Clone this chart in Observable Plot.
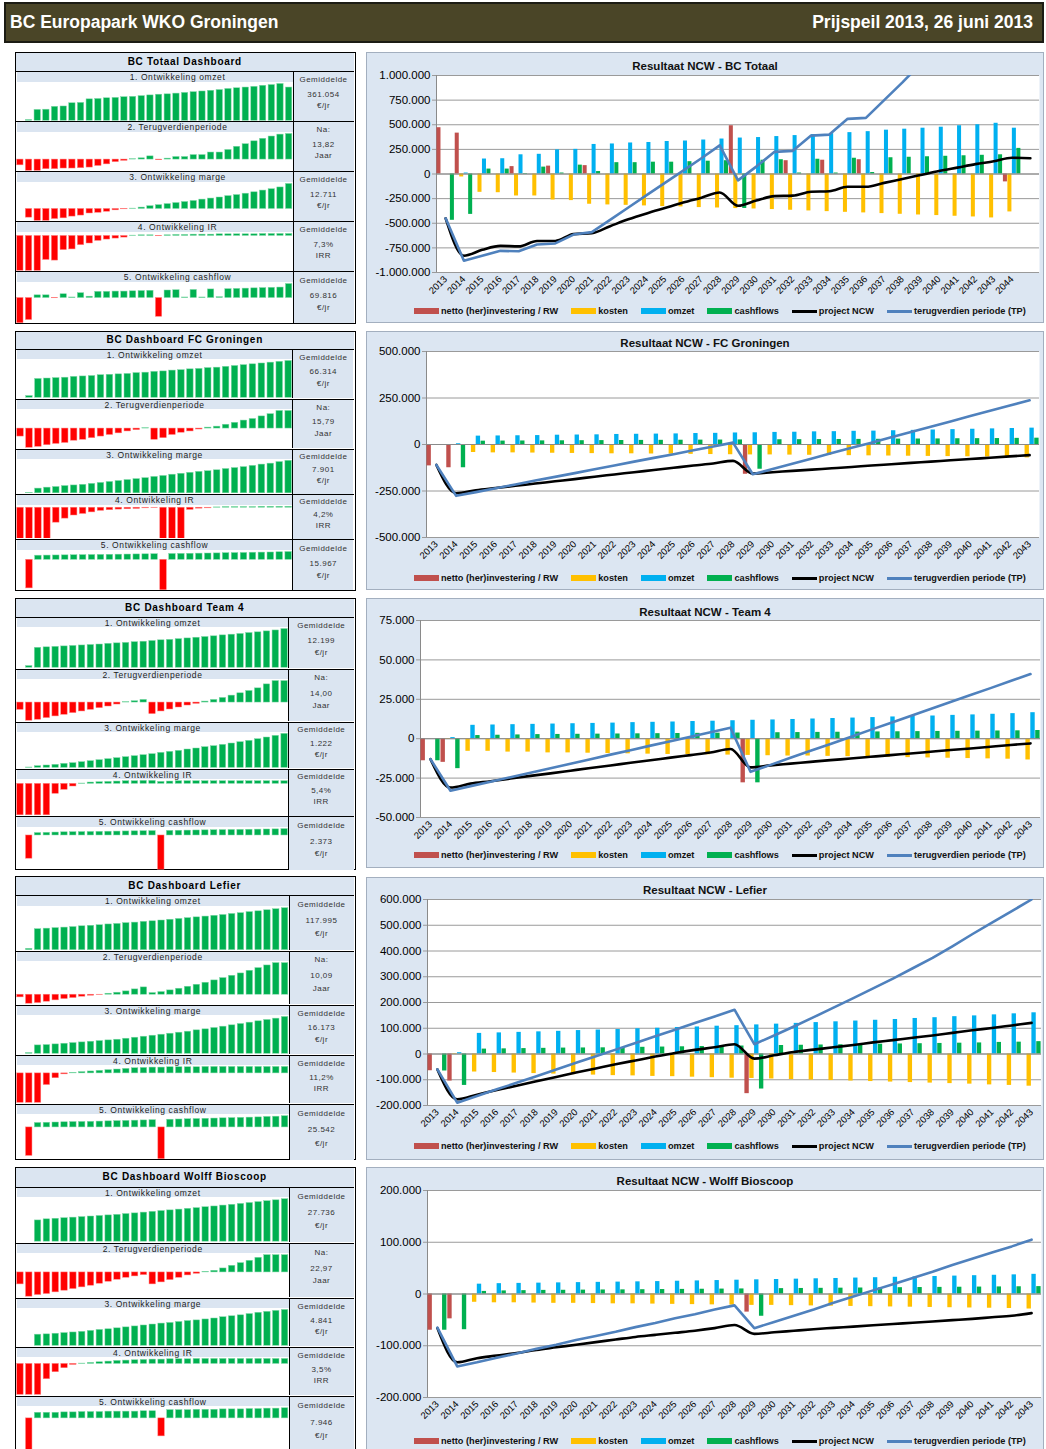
<!DOCTYPE html>
<html><head><meta charset="utf-8">
<script src="https://cdn.jsdelivr.net/npm/d3@7"></script>
<script src="https://cdn.jsdelivr.net/npm/@observablehq/plot@0.6"></script>
<style>
html,body{margin:0;padding:0;background:#fff;}
body{width:1046px;height:1449px;overflow:hidden;position:relative;font-family:"Liberation Sans",Arial,sans-serif;}
</style></head><body>
<script>
// ---------- categories ----------
const yearsTotaal = ["2013","2014","2015","2016","2017","2018","2019","2020","2021","2022","2023","2024","2025","2026","2027","2028","2029","2030","2031","2032","2033","2034","2035","2036","2037","2038","2039","2040","2041","2042","2043","2044",""];
const years = ["2013","2014","2015","2016","2017","2018","2019","2020","2021","2022","2023","2024","2025","2026","2027","2028","2029","2030","2031","2032","2033","2034","2035","2036","2037","2038","2039","2040","2041","2042","2043"];

// ---------- BC Totaal (x 1000 EUR) ----------
const totInvest = [470,415,0,0,75,0,80,0,85,0,0,0,0,0,0,0,490,0,0,135,0,140,0,145,0,0,0,0,0,0,0,-80];
const totKosten = [0,-30,-186,-190,-223,-223,-264,-270,-307,-314,-318,-324,-331,-334,-341,-345,-351,-355,-361,-368,-375,-382,-389,-395,-402,-409,-416,-422,-429,-436,-446,-385];
const totOmzet = [0,10,152,155,195,200,245,250,300,305,315,320,330,335,345,355,365,370,380,390,400,410,420,430,445,455,465,475,490,500,515,465];
const totCash = [-470,-410,50,50,-5,70,10,90,25,115,115,120,120,125,130,135,-350,140,145,10,150,10,160,15,165,170,175,180,185,190,195,260];
const totNCW = [-450,-830,-770,-730,-735,-680,-680,-610,-600,-530,-460,-400,-345,-290,-240,-188,-323,-270,-225,-220,-180,-175,-130,-130,-90,-50,-10,30,65,100,130,165,160];
const totTP = [-450,-880,-830,-780,-785,-715,-705,-615,-590,-465,-340,-215,-90,35,160,290,-65,75,225,235,390,400,560,570,750,930,1120,1300,1480,1650,1800,1900,1950];
const totMiniTP = [-18,-35,-35,-30,-30,-28,-28,-27,-25,-20,-15,-8,-4,1,4,10,-2,3,8,8,14,14,22,22,30,40,48,57,65,72,78,80];
const totMiniMarge = [0,-25,-34,-34,-29,-27,-22,-19,-13,-11,-8,-4,-1,1,4,8,11,14,17,20,23,27,30,33,37,40,44,48,53,57,62,72];
const totMiniIR = [-106,-106,-106,-73,-75,-43,-41,-28,-23,-15,-11,-8,-5,1,2,2,-1,2,3,3,4,4,4,5,5,5,5,5,6,6,6,6];
const totMiniCash = [-470,-410,50,50,-5,70,10,90,25,115,115,120,120,125,130,135,-350,140,145,10,150,10,160,15,165,170,175,180,185,190,195,260];
const totTicks = [-1000,-750,-500,-250,0,250,500,750,1000];
const totStats = [["Gemiddelde","361.054","€/jr"],["Na:","13,82","Jaar"],["Gemiddelde","12.711","€/jr"],["Gemiddelde","7,3%","IRR"],["Gemiddelde","69.816","€/jr"]];

// ---------- FC Groningen ----------
const fcInvest = [-115,-125,0,0,0,0,0,0,0,0,0,0,0,0,0,0,-160,0,0,0,0,0,0,0,0,0,0,0,0,0,0];
const fcKosten = [0,-3,-43,-45,-45,-46,-47,-48,-49,-50,-50,-51,-52,-53,-54,-55,-56,-56,-57,-58,-59,-60,-61,-62,-63,-64,-65,-66,-67,-68,-72];
const fcOmzet = [0,4,45,46,47,48,50,51,52,54,55,56,57,59,60,62,63,65,66,68,69,71,72,74,76,78,80,82,84,86,88];
const fcCash = [0,-125,18,18.5,19,19.5,20,20.5,21,21.5,22,22.5,23,23.5,24,24.5,-133,25.5,26,26.5,27,27.5,28,29,29.5,30,31,31.5,32,33,34];
const fcNCW = [-110,-262,-246,-234,-222,-210,-198,-186,-173,-161,-149,-137,-125,-113,-102,-88,-156,-149,-142,-135,-128,-121,-113,-106,-99,-92,-85,-78,-71,-64,-57];
const fcTP = [-110,-276,-256,-235,-215,-194,-174,-154,-133,-113,-92,-72,-52,-31,-11,10,-160,-132,-103,-75,-46,-18,10,39,67,96,124,153,181,210,238];
const fcMiniTP = [-25,-60,-57,-52,-48,-45,-38,-35,-30,-25,-20,-15,-9,-5,1,-35,-30,-20,-13,-9,-3,3,6,12,18,25,30,38,45,55,55];
const fcMiniMarge = [0,1,15,18,20,23,25,27,30,33,36,39,42,45,48,52,55,59,62,65,68,70,73,77,80,83,87,91,94,99,103];
const fcMiniIR = [-100,-100,-100,-100,-48,-35,-25,-20,-15,-10,-8,-6,-5,-4,-2,-1,-100,-100,-100,-7,-3,-2,1,2,2,2,2,3,3,3,3];
const fcMiniCash = [0,-125,18,18.5,19,19.5,20,20.5,21,21.5,22,22.5,23,23.5,24,24.5,-133,25.5,26,26.5,27,27.5,28,29,29.5,30,31,31.5,32,33,34];
const fcTicks = [-500,-250,0,250,500];
const fcStats = [["Gemiddelde","66.314","€/jr"],["Na:","15,79","Jaar"],["Gemiddelde","7.901","€/jr"],["Gemiddelde","4,2%","IRR"],["Gemiddelde","15.967","€/jr"]];

// ---------- Team 4 ----------
const t4Invest = [-14,-15,0,0,0,0,0,0,0,0,0,0,0,0,0,0,-28,0,0,0,0,0,0,0,0,0,0,0,0,0,0];
const t4Kosten = [0,-0.5,-8,-8,-8.5,-8.5,-9,-9,-9.2,-9.4,-9.6,-9.8,-10,-10,-10.2,-10.4,-10.6,-10.8,-11,-11,-11.2,-11.4,-11.6,-11.8,-12,-12.2,-12.4,-12.6,-12.8,-13,-13.5];
const t4Omzet = [0,0.7,8.5,8.7,8.9,9.1,9.3,9.5,9.7,9.9,10.2,10.4,10.6,10.9,11.1,11.4,11.7,11.9,12.2,12.5,12.8,13.1,13.4,13.8,14.1,14.4,14.8,15.1,15.5,15.9,16.5];
const t4Cash = [-14,-19,2,2.2,2.4,2.6,2.7,2.8,2.9,3,3.1,3.2,3.3,3.4,3.5,3.6,-28,3.8,3.9,4,4.1,4.2,4.3,4.4,4.5,4.6,4.7,4.8,4.9,5,5.2];
const t4NCW = [-13,-31,-28.5,-27,-25.3,-23.6,-22,-20.3,-18.6,-17,-15.3,-13.7,-12,-10.4,-8.8,-6.5,-18.2,-16.9,-15.8,-14.7,-13.6,-12.6,-11.5,-10.4,-9.4,-8.3,-7.2,-6.2,-5.1,-4,-3];
const t4TP = [-13,-33,-30.1,-27.3,-24.4,-21.6,-18.7,-15.9,-13,-10.1,-7.3,-4.4,-1.6,1.3,4.1,7,-21,-16.6,-12.1,-7.7,-3.3,1.1,5.6,10,14.4,18.9,23.3,27.7,32.1,36.6,41];
const t4MiniTP = [-22,-55,-52,-47,-42,-37,-32,-27,-22,-17,-12,-6,1,4,8,-35,-27,-21,-15,-9,-4,3,8,14,21,28,35,43,55,65,65];
const t4MiniMarge = [0,1,5,7,9,12,14,17,20,23,26,29,32,35,38,41,45,48,51,55,58,62,65,69,73,77,81,86,91,96,102];
const t4MiniIR = [-95,-95,-95,-95,-30,-18,-8,1,4,5,6,7,8,8,9,9,6,7,8,8,8,8,8,8,8,8,8,8,8,8,8];
const t4MiniCash = [0,-19,2,2.2,2.4,2.6,2.7,2.8,2.9,3,3.1,3.2,3.3,3.4,3.5,3.6,-28,3.8,3.9,4,4.1,4.2,4.3,4.4,4.5,4.6,4.7,4.8,4.9,5,5.2];
const t4Ticks = [-50,-25,0,25,50,75];
const t4Stats = [["Gemiddelde","12.199","€/jr"],["Na:","14,00","Jaar"],["Gemiddelde","1.222","€/jr"],["Gemiddelde","5,4%","IRR"],["Gemiddelde","2.373","€/jr"]];

// ---------- Lefier ----------
const lfInvest = [-65,-105,0,0,0,0,0,0,0,0,0,0,0,0,0,0,-154,0,0,0,0,0,0,0,0,0,0,0,0,0,0];
const lfKosten = [0,-2,-70,-72,-74,-76,-78,-80,-82,-84,-85,-87,-88,-90,-92,-94,-95,-97,-99,-101,-103,-105,-107,-109,-111,-113,-115,-117,-120,-122,-125];
const lfOmzet = [0,5,80,82,84,86,88,91,93,95,98,100,103,105,108,110,113,116,119,122,125,128,131,134,138,141,145,148,152,156,160];
const lfCash = [-66,-122,19,20,21,22,23,23.5,24,25,26,27,28,29,30,31,-136,33,34,35,36,37,38,39,40,41,42,43,45,46,48];
const lfNCW = [-60,-176,-158,-140,-123,-106,-89,-72,-56,-40,-25,-10,4,16,26,38,-18,-5,8,17,26,35,45,54,63,72,82,92,101,111,121];
const lfTP = [-60,-189,-163,-137,-112,-86,-60,-34,-9,17,43,69,94,120,146,172,38,72,107,143,180,217,255,293,333,373,418,465,510,555,600];
const lfMiniTP = [-8,-27,-25,-21,-17,-13,-10,-6,-3,-1,3,6,10,16,22,5,8,13,18,24,30,36,43,50,57,64,72,80,88,95,95];
const lfMiniMarge = [0,2,25,26,28,30,32,34,36,38,40,42,45,48,51,54,57,60,63,66,70,73,77,81,85,89,93,97,101,105,110];
const lfMiniIR = [-91,-91,-91,-36,-15,-3,2,4,6,8,10,12,14,16,17,18,18,19,19,19,19,20,20,20,20,20,20,20,20,20,20];
const lfMiniCash = [0,-122,19,20,21,22,23,23.5,24,25,26,27,28,29,30,31,-136,33,34,35,36,37,38,39,40,41,42,43,45,46,48];
const lfTicks = [-200,-100,0,100,200,300,400,500,600];
const lfStats = [["Gemiddelde","117.995","€/jr"],["Na:","10,09","Jaar"],["Gemiddelde","16.173","€/jr"],["Gemiddelde","11,2%","IRR"],["Gemiddelde","25.542","€/jr"]];

// ---------- Wolff Bioscoop ----------
const wfInvest = [-70,-48,0,0,0,0,0,0,0,0,0,0,0,0,0,0,-35,0,0,0,0,0,0,0,0,0,0,0,0,0,0];
const wfKosten = [0,0,-16,-17,-17,-17.5,-18,-18,-18.5,-19,-19,-19.5,-20,-20.5,-21,-21.5,-22,-22,-22.5,-23,-23.5,-24,-24.5,-25,-25.5,-26,-26.5,-27,-27.5,-28,-29];
const wfOmzet = [0,0,19,20,20.5,21,21.5,22,22.5,23,23.5,24,24.7,25.3,26,26.7,27.4,28,28.7,29.4,30,30.8,31.5,32.3,33,33.8,34.6,35.4,36.2,37,38];
const wfCash = [-70,-69,5,6,6.5,7,7.2,7.5,7.8,8,8.3,8.6,8.9,9.2,9.5,9.8,-43,10.4,10.7,11,11.3,11.6,11.9,12.2,12.5,12.8,13.1,13.4,13.7,14,14.3];
const wfNCW = [-66,-132,-124,-119,-114,-108,-103,-98,-93,-88,-83,-79,-75,-71,-66,-60,-77,-74,-71,-68,-65.5,-63,-60.5,-58,-55.5,-53,-50.5,-48,-45,-42,-37];
const wfTP = [-65,-140,-132,-123,-115,-106,-98,-89,-81,-73,-64,-56,-47,-39,-30,-22,-66,-54,-42,-30,-17,-5,7,19,31,43,56,68,80,92,105];
const wfMiniTP = [-36,-73,-68,-65,-60,-55,-50,-45,-40,-34,-28,-22,-16,-12,-8,-36,-30,-23,-16,-9,-4,2,5,12,20,28,35,44,52,52,52];
const wfMiniMarge = [0,0,35,36,38,40,42,44,47,50,52,55,58,61,64,67,70,72,75,78,80,83,86,90,93,96,100,104,107,110,113];
const wfMiniIR = [-93,-93,-93,-46,-25,-13,-3,1,3,5,7,9,10,11,12,13,13,14,14,14,15,15,15,15,15,15,15,15,15,15,15];
const wfMiniCash = [0,-90,15,15,15,16,16,17,17,17,18,18,18,18,19,19,-48,22,22,22,23,23,23,24,24,24,25,25,26,26,27];
const wfTicks = [-200,-100,0,100,200];
const wfStats = [["Gemiddelde","27.736","€/jr"],["Na:","22,97","Jaar"],["Gemiddelde","4.841","€/jr"],["Gemiddelde","3,5%","IRR"],["Gemiddelde","7.946","€/jr"]];

// ---------- texts ----------
const pageTitle = "BC Europapark WKO Groningen";
const pageDate = "Prijspeil 2013, 26 juni 2013";
const rowTitles = ["1. Ontwikkeling omzet","2. Terugverdienperiode","3. Ontwikkeling marge","4. Ontwikkeling IR","5. Ontwikkeling cashflow"];
const legendNames = ["netto (her)investering / RW","kosten","omzet","cashflows","project NCW","terugverdien periode (TP)"];
const legendKinds = ["bar","bar","bar","bar","line","line"];
const seriesColors = ["#c0504d","#ffc000","#00b0f0","#00b050","#000000","#4f81bd"];
const miniNeg = "#ff0000", miniPos = "#00b050";
const FONT = '"Liberation Sans", Arial, sans-serif';

const nl = d3.formatLocale({decimal: ",", thousands: ".", grouping: [3], currency: ["€", ""], minus: "-"});
const fmtInt = nl.format(",.0f");
const fmtK = v => fmtInt(v * 1000);

// ---------- helpers ----------
function div(parent, style, text) {
  const e = document.createElement("div");
  e.style.position = "absolute"; e.style.boxSizing = "border-box";
  for (const [k, v] of Object.entries(style)) e.style[k] = typeof v === "number" ? v + "px" : v;
  if (text != null) e.textContent = text;
  parent.appendChild(e);
  return e;
}
const page = document.body;

// header
const hdr = div(page, {left: 4, top: 2, width: 1040, height: 41, background: "#4a4527", border: "2px solid #1c1c14"});
div(hdr, {left: 4, top: 0, height: 37, lineHeight: 37, color: "#fff", fontSize: 17.5, fontWeight: "bold", whiteSpace: "nowrap"}, pageTitle);
div(hdr, {right: 9, top: 0, height: 37, lineHeight: 37, color: "#fff", fontSize: 17.5, fontWeight: "bold", whiteSpace: "nowrap"}, pageDate);

// ---------- mini chart ----------
function mini(values, labels, w, h) {
  const lo = Math.min(0, d3.min(values)), hi = Math.max(0, d3.max(values));
  const span = hi - lo || 1;
  const dom = labels.slice(0, values.length);
  return Plot.plot({
    width: w, height: h, margin: 0,
    style: {background: "transparent"},
    x: {type: "band", domain: dom, paddingInner: 0.27, paddingOuter: 0.08, round: false, axis: null},
    y: {domain: [lo - span * 0.02, hi + span * 0.04], axis: null},
    marks: [
      Plot.barY(values, {x: (d, i) => dom[i], y: d => d, filter: d => d >= 0, fill: miniPos, stroke: "#7fd8a8", strokeWidth: 0.5}),
      Plot.barY(values, {x: (d, i) => dom[i], y: d => d, filter: d => d < 0, fill: miniNeg, stroke: "#ff8080", strokeWidth: 0.5})
    ]
  });
}

function buildPanel(cfg) {
  const g = cfg.geom, L = 15, R = 355.5, B = 1.5;
  const wrap = div(page, {left: L, top: g.y, width: R - L, height: g.bottom - g.y, border: B + "px solid #000", background: "#fff"});
  div(wrap, {left: 0, top: 0, width: R - L - 2 * B, height: g.rows[0] - g.y - B, background: "#dbe5f1", borderBottom: B + "px solid #000",
    fontSize: 10, fontWeight: "bold", letterSpacing: "0.7px", textAlign: "center", lineHeight: (g.rows[0] - g.y - 2 * B) + "px"}, cfg.title);
  const splitX = g.split - L - B;
  g.rows.forEach((top, k) => {
    const bot = k < 4 ? g.rows[k + 1] : g.bottom;
    const h = bot - top;
    const row = div(wrap, {left: 0, top: top - g.y - B, width: R - L - 2 * B, height: h, borderBottom: k < 4 ? B + "px solid #000" : "none"});
    const inner = h - (k < 4 ? B : 0);
    div(row, {left: 1, top: 0, width: splitX - 1, height: 9.5, background: "#dbe5f1"});
    div(row, {left: 1, top: 0, width: (g.subW || splitX) - 1, height: 9.5, fontSize: 8.5, letterSpacing: "0.6px",
      color: "#222", textAlign: "center", lineHeight: "10px", whiteSpace: "nowrap"}, rowTitles[k]);
    const stat = div(row, {left: splitX, top: 0, width: R - L - 2 * B - splitX, height: inner, background: "#dbe5f1", borderLeft: B + "px solid #000"});
    const fr = [0.17, 0.47, 0.71];
    cfg.stats[k].forEach((s, j) => div(stat, {left: 0, width: "100%", top: inner * fr[j] - 5, height: 10, lineHeight: "10px", textAlign: "center",
      fontSize: 8, letterSpacing: "0.5px", color: "#333"}, s));
    const svg = mini(cfg.mini[k], cfg.labels, splitX, inner - 9.5);
    svg.style.position = "absolute"; svg.style.left = "0px"; svg.style.top = "9.5px";
    row.appendChild(svg);
  });
}

// ---------- main chart ----------
function buildMain(cfg) {
  const {box, plot} = cfg.geom;
  const wrap = div(page, {left: box.x, top: box.y, width: box.w, height: box.h, background: "#dce6f2", border: "1px solid #a3afbf"});
  div(wrap, {left: 0, top: cfg.geom.titleY - box.y - 1 - 8, width: box.w - 2, height: 16, lineHeight: "16px", textAlign: "center",
    fontSize: 11.5, fontWeight: "bold", color: "#111"}, cfg.title);
  const labels = cfg.labels, n = labels.length;
  const H = plot.b - box.y + 40;
  const centers = labels.map((l, i) => i + 0.5);
  const barSeries = [cfg.invest, cfg.kosten, cfg.omzet, cfg.cash];
  const OFF = 0.025, STEP = 0.245, BW = 0.22;
  const barMarks = barSeries.map((arr, s) => Plot.rect(arr, {
    x1: (v, i) => i + OFF + s * STEP, x2: (v, i) => i + OFF + s * STEP + BW, y1: 0, y2: v => v, fill: seriesColors[s], clip: true}));
  const svg = Plot.plot({
    width: box.w - 2, height: H,
    marginLeft: plot.l - box.x - 1, marginRight: box.x + box.w - 1 - plot.r,
    marginTop: plot.t - box.y - 1, marginBottom: H - (plot.b - box.y - 1),
    style: {background: "transparent", fontFamily: FONT, color: "#000", overflow: "visible"},
    x: {type: "linear", domain: [0, n]},
    y: {domain: [cfg.ticks[0], cfg.ticks[cfg.ticks.length - 1]]},
    marks: [
      Plot.frame({fill: "#fff", stroke: "none"}),
      Plot.gridY(cfg.ticks, {stroke: "#9a9a9a", strokeOpacity: 1, strokeWidth: 1}),
      Plot.axisY(cfg.ticks, {tickFormat: fmtK, tickSize: 4, tickPadding: 2, fontSize: 11.5, stroke: "#9a9a9a", label: null}),
      Plot.ruleX([0], {stroke: "#8a8a8a"}),
      ...barMarks,
      Plot.ruleY([0], {stroke: "#8a8a8a"}),
      Plot.line(cfg.ncw, {x: (v, i) => i + 0.5, y: v => v, stroke: seriesColors[4], strokeWidth: 2.6, curve: "monotone-x", clip: true}),
      Plot.line(cfg.tp, {x: (v, i) => i + 0.5, y: v => v, stroke: seriesColors[5], strokeWidth: 2.6, clip: true}),
      Plot.axisX(centers, {tickFormat: c => labels[Math.round(c - 0.5)], tickRotate: -45, tickSize: 0, tickPadding: 5, fontSize: 9.5, label: null})
    ]
  });
  svg.style.position = "absolute"; svg.style.left = "0px"; svg.style.top = "0px";
  wrap.appendChild(svg);
  // legend
  const lg = div(page, {left: 414, top: cfg.geom.legendY - 7, height: 14, display: "flex", alignItems: "center", whiteSpace: "nowrap",
    fontSize: 9.2, fontWeight: "bold", color: "#111"});
  legendNames.forEach((name, j) => {
    const sw = document.createElement("div");
    sw.style.width = "25px"; sw.style.height = legendKinds[j] === "bar" ? "6px" : "3px";
    sw.style.background = seriesColors[j]; sw.style.marginRight = "2px"; sw.style.flex = "none";
    lg.appendChild(sw);
    const t = document.createElement("span");
    t.textContent = name; t.style.marginRight = j < 5 ? "13px" : "0px";
    lg.appendChild(t);
  });
}

// ---------- assemble ----------
const dashboards = [
  {title: "BC Totaal Dashboard", mainTitle: "Resultaat NCW - BC Totaal", labels: yearsTotaal,
   invest: totInvest, kosten: totKosten, omzet: totOmzet, cash: totCash, ncw: totNCW, tp: totTP, ticks: totTicks,
   mini: [totOmzet, totMiniTP, totMiniMarge, totMiniIR, totMiniCash], stats: totStats,
   pg: {y: 52, rows: [72.5, 122.5, 172.5, 222.5, 272.5], bottom: 323.5, split: 293, subW: 322},
   mg: {box: {x: 366, y: 52, w: 678, h: 271}, plot: {l: 436, t: 75, r: 1039, b: 272}, titleY: 66, legendY: 311}},
  {title: "BC Dashboard FC Groningen", mainTitle: "Resultaat NCW - FC Groningen", labels: years,
   invest: fcInvest, kosten: fcKosten, omzet: fcOmzet, cash: fcCash, ncw: fcNCW, tp: fcTP, ticks: fcTicks,
   mini: [fcOmzet, fcMiniTP, fcMiniMarge, fcMiniIR, fcMiniCash], stats: fcStats,
   pg: {y: 331, rows: [350, 400, 450, 495.5, 540.5], bottom: 590.5, split: 292.7},
   mg: {box: {x: 366, y: 331, w: 678, h: 259}, plot: {l: 426, t: 351, r: 1039, b: 537}, titleY: 343, legendY: 578}},
  {title: "BC Dashboard Team 4", mainTitle: "Resultaat NCW - Team 4", labels: years,
   invest: t4Invest, kosten: t4Kosten, omzet: t4Omzet, cash: t4Cash, ncw: t4NCW, tp: t4TP, ticks: t4Ticks,
   mini: [t4Omzet, t4MiniTP, t4MiniMarge, t4MiniIR, t4MiniCash], stats: t4Stats,
   pg: {y: 598, rows: [618, 670, 723, 770, 817.5], bottom: 870, split: 288.5},
   mg: {box: {x: 366, y: 598, w: 678, h: 270}, plot: {l: 420, t: 620, r: 1040, b: 817}, titleY: 612, legendY: 855}},
  {title: "BC Dashboard Lefier", mainTitle: "Resultaat NCW - Lefier", labels: years,
   invest: lfInvest, kosten: lfKosten, omzet: lfOmzet, cash: lfCash, ncw: lfNCW, tp: lfTP, ticks: lfTicks,
   mini: [lfOmzet, lfMiniTP, lfMiniMarge, lfMiniIR, lfMiniCash], stats: lfStats,
   pg: {y: 876, rows: [896.5, 952, 1006, 1056, 1105], bottom: 1160, split: 289},
   mg: {box: {x: 366, y: 877, w: 678, h: 283}, plot: {l: 427, t: 899, r: 1041, b: 1105}, titleY: 890, legendY: 1146}},
  {title: "BC Dashboard Wolff Bioscoop", mainTitle: "Resultaat NCW - Wolff Bioscoop", labels: years,
   invest: wfInvest, kosten: wfKosten, omzet: wfOmzet, cash: wfCash, ncw: wfNCW, tp: wfTP, ticks: wfTicks,
   mini: [wfOmzet, wfMiniTP, wfMiniMarge, wfMiniIR, wfMiniCash], stats: wfStats,
   pg: {y: 1167, rows: [1188, 1244, 1299, 1348, 1397], bottom: 1453, split: 289},
   mg: {box: {x: 366, y: 1167, w: 678, h: 283}, plot: {l: 427, t: 1190, r: 1041, b: 1397}, titleY: 1181, legendY: 1441}}
];

dashboards.forEach(d => {
  buildPanel({title: d.title, labels: d.labels, mini: d.mini, stats: d.stats, geom: d.pg});
  buildMain({title: d.mainTitle, labels: d.labels, invest: d.invest, kosten: d.kosten, omzet: d.omzet, cash: d.cash,
    ncw: d.ncw, tp: d.tp, ticks: d.ticks, geom: d.mg});
});
</script></body></html>
